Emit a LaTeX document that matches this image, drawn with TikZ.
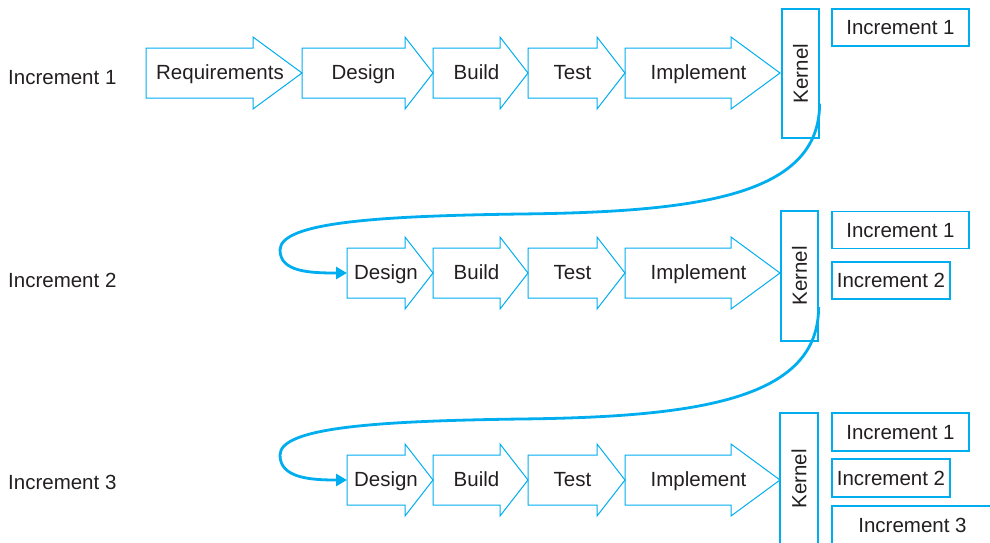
\documentclass[tikz,border=0pt]{standalone}
\usepackage{fontspec}
\setmainfont{Liberation Sans}
\usetikzlibrary{arrows.meta}
\definecolor{pblue}{HTML}{00AEEF}
\definecolor{ptext}{HTML}{231F20}
\tikzset{
  arr/.style={draw=pblue, line width=1pt, line join=miter},
  lbl/.style={font=\fontsize{20.5}{24}\selectfont, text=ptext, inner sep=0pt, text height=14.7pt, text depth=0pt},
  boxn/.style={lbl, draw=pblue, line width=1.2pt},
  conn/.style={draw=pblue, line width=2.8pt, -{Triangle[length=11pt,width=12pt]}},
}
\newcommand{\procarrow}[6]{%
  \draw[arr] (#2,#5-25) -- (#3,#5-25) -- (#3,#5-36) -- (#4,#5) -- (#3,#5+36) -- (#3,#5+25) -- (#2,#5+25) -- cycle;
  \node[lbl] (#1) at ({(#2+#4)/2-4},#5-1) {#6};}
\begin{document}
\begin{tikzpicture}[x=1pt,y=-1pt]
\useasboundingbox (0,0) rectangle (990,542);
\clip (0,0) rectangle (990,542);
% left labels
\node[lbl, anchor=west] (inc1) at (8,77.5) {Increment 1};
\node[lbl, anchor=west] (inc2) at (8,280.5) {Increment 2};
\node[lbl, anchor=west] (inc3) at (8,482.5) {Increment 3};
% row 1
\procarrow{req1}{146}{253}{302}{73}{Requirements}
\procarrow{des1}{302}{405}{433}{73}{Design}
\procarrow{bld1}{433}{500}{528}{73}{Build}
\procarrow{tst1}{528}{597}{625}{73}{Test}
\procarrow{imp1}{625}{731}{780}{73}{Implement}
\node[boxn, rotate=90, minimum width=129pt, minimum height=37pt] (k1) at (800.5,73.5) {Kernel};
\node[boxn, minimum width=137pt, minimum height=37pt] (a11) at (900.5,27.5) {Increment 1};
% row 2
\coordinate (d2in) at (347,273);
\procarrow{des2}{347}{405}{433}{273}{Design}
\procarrow{bld2}{433}{500}{528}{273}{Build}
\procarrow{tst2}{528}{597}{625}{273}{Test}
\procarrow{imp2}{625}{731}{780}{273}{Implement}
\node[boxn, rotate=90, minimum width=130pt, minimum height=37pt] (k2) at (799.5,276) {Kernel};
\node[boxn, minimum width=137pt, minimum height=37pt] (a21) at (900.5,230) {Increment 1};
\node[boxn, minimum width=118pt, minimum height=37pt] (a22) at (891,280.5) {Increment 2};
% row 3
\coordinate (d3in) at (347,480);
\procarrow{des3}{347}{405}{433}{480}{Design}
\procarrow{bld3}{433}{500}{528}{480}{Build}
\procarrow{tst3}{528}{597}{625}{480}{Test}
\procarrow{imp3}{625}{731}{780}{480}{Implement}
\node[boxn, rotate=90, minimum width=132pt, minimum height=38pt] (k3) at (799,479) {Kernel};
\node[boxn, minimum width=137pt, minimum height=38pt] (a31) at (900.5,432) {Increment 1};
\node[boxn, minimum width=118pt, minimum height=38pt] (a32) at (891,478) {Increment 2};
\node[boxn, minimum width=161pt, minimum height=38pt] (a33) at (912.5,525) {Increment 3};
% connectors (k.south is the right edge of the rotated kernel boxes)
\draw[conn] ([yshift=-30pt]k1.south) .. controls +(0,92) and (700,212) .. (520,214)
  .. controls (380,216) and (280,222) .. (280,250)
  .. controls (280,272) and (310,273) .. (d2in);
\draw[conn] ([yshift=-31pt]k2.south) .. controls +(0,92) and (700,417) .. (520,419)
  .. controls (380,421) and (280,427) .. (280,455)
  .. controls (280,478) and (310,480) .. (d3in);
\end{tikzpicture}
\end{document}
